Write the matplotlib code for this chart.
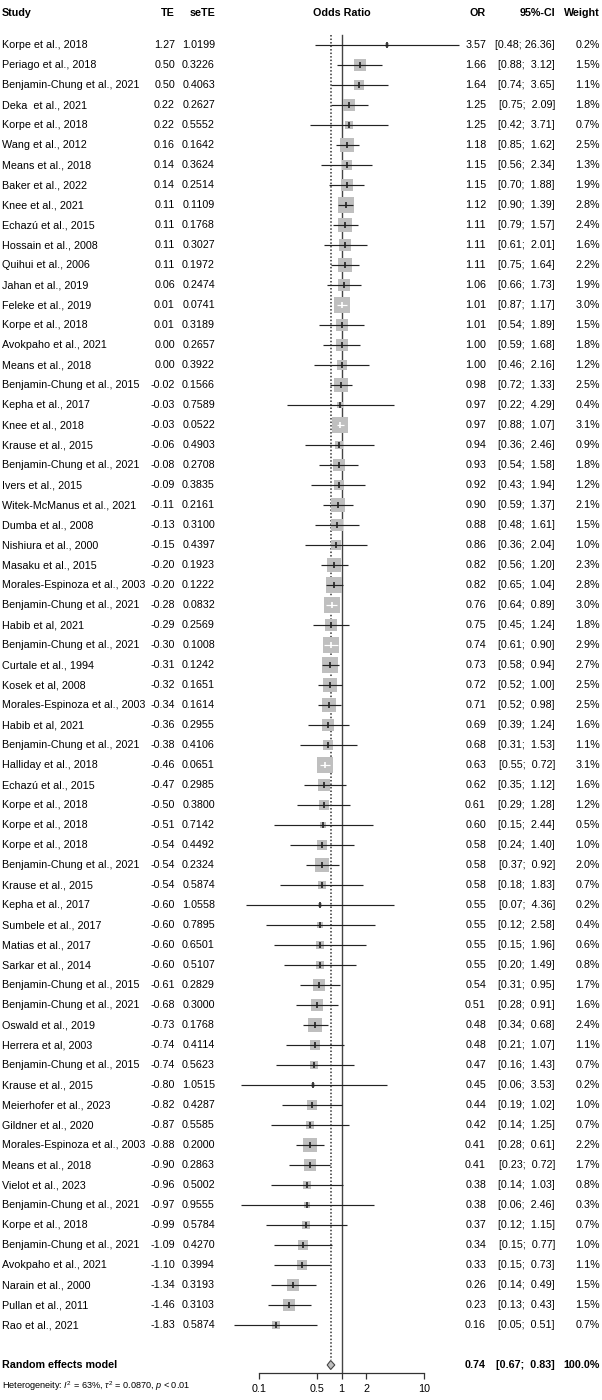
import numpy as np
import matplotlib
matplotlib.use("Agg")
import matplotlib.pyplot as plt
from matplotlib.patches import Polygon

plt.rcParams['font.family'] = ['Liberation Sans', 'DejaVu Sans']
plt.rcParams['mathtext.fontset'] = 'custom'
plt.rcParams['mathtext.rm'] = 'Liberation Sans'
plt.rcParams['mathtext.it'] = 'Liberation Sans:italic'

studies = [
    "Korpe et al., 2018", "Periago et al., 2018", "Benjamin-Chung et al., 2021", "Deka  et al., 2021",
    "Korpe et al., 2018", "Wang et al., 2012", "Means et al., 2018", "Baker et al., 2022",
    "Knee et al., 2021", "Echazú et al., 2015", "Hossain et al., 2008", "Quihui et al., 2006",
    "Jahan et al., 2019", "Feleke et al., 2019", "Korpe et al., 2018", "Avokpaho et al., 2021",
    "Means et al., 2018", "Benjamin-Chung et al., 2015", "Kepha et al., 2017", "Knee et al., 2018",
    "Krause et al., 2015", "Benjamin-Chung et al., 2021", "Ivers et al., 2015", "Witek-McManus et al., 2021",
    "Dumba et al., 2008", "Nishiura et al., 2000", "Masaku et al., 2015", "Morales-Espinoza et al., 2003",
    "Benjamin-Chung et al., 2021", "Habib et al, 2021", "Benjamin-Chung et al., 2021", "Curtale et al., 1994",
    "Kosek et al, 2008", "Morales-Espinoza et al., 2003", "Habib et al, 2021", "Benjamin-Chung et al., 2021",
    "Halliday et al., 2018", "Echazú et al., 2015", "Korpe et al., 2018", "Korpe et al., 2018",
    "Korpe et al., 2018", "Benjamin-Chung et al., 2021", "Krause et al., 2015", "Kepha et al., 2017",
    "Sumbele et al., 2017", "Matias et al., 2017", "Sarkar et al., 2014", "Benjamin-Chung et al., 2015",
    "Benjamin-Chung et al., 2021", "Oswald et al., 2019", "Herrera et al, 2003", "Benjamin-Chung et al., 2015",
    "Krause et al., 2015", "Meierhofer et al., 2023", "Gildner et al., 2020", "Morales-Espinoza et al., 2003",
    "Means et al., 2018", "Vielot et al., 2023", "Benjamin-Chung et al., 2021", "Korpe et al., 2018",
    "Benjamin-Chung et al., 2021", "Avokpaho et al., 2021", "Narain et al., 2000", "Pullan et al., 2011",
    "Rao et al., 2021",
]
te = [1.27, 0.50, 0.50, 0.22, 0.22, 0.16, 0.14, 0.14, 0.11, 0.11, 0.11, 0.11, 0.06, 0.01, 0.01, 0.00,
      0.00, -0.02, -0.03, -0.03, -0.06, -0.08, -0.09, -0.11, -0.13, -0.15, -0.20, -0.20, -0.28, -0.29,
      -0.30, -0.31, -0.32, -0.34, -0.36, -0.38, -0.46, -0.47, -0.50, -0.51, -0.54, -0.54, -0.54, -0.60,
      -0.60, -0.60, -0.60, -0.61, -0.68, -0.73, -0.74, -0.74, -0.80, -0.82, -0.87, -0.88, -0.90, -0.96,
      -0.97, -0.99, -1.09, -1.10, -1.34, -1.46, -1.83]
sete = ["1.0199", "0.3226", "0.4063", "0.2627", "0.5552", "0.1642", "0.3624", "0.2514", "0.1109", "0.1768",
        "0.3027", "0.1972", "0.2474", "0.0741", "0.3189", "0.2657", "0.3922", "0.1566", "0.7589", "0.0522",
        "0.4903", "0.2708", "0.3835", "0.2161", "0.3100", "0.4397", "0.1923", "0.1222", "0.0832", "0.2569",
        "0.1008", "0.1242", "0.1651", "0.1614", "0.2955", "0.4106", "0.0651", "0.2985", "0.3800", "0.7142",
        "0.4492", "0.2324", "0.5874", "1.0558", "0.7895", "0.6501", "0.5107", "0.2829", "0.3000", "0.1768",
        "0.4114", "0.5623", "1.0515", "0.4287", "0.5585", "0.2000", "0.2863", "0.5002", "0.9555", "0.5784",
        "0.4270", "0.3994", "0.3193", "0.3103", "0.5874"]
odds = [3.57, 1.66, 1.64, 1.25, 1.25, 1.18, 1.15, 1.15, 1.12, 1.11, 1.11, 1.11, 1.06, 1.01, 1.01, 1.00,
        1.00, 0.98, 0.97, 0.97, 0.94, 0.93, 0.92, 0.90, 0.88, 0.86, 0.82, 0.82, 0.76, 0.75, 0.74, 0.73,
        0.72, 0.71, 0.69, 0.68, 0.63, 0.62, 0.61, 0.60, 0.58, 0.58, 0.58, 0.55, 0.55, 0.55, 0.55, 0.54,
        0.51, 0.48, 0.48, 0.47, 0.45, 0.44, 0.42, 0.41, 0.41, 0.38, 0.38, 0.37, 0.34, 0.33, 0.26, 0.23, 0.16]
ci_lo = [0.48, 0.88, 0.74, 0.75, 0.42, 0.85, 0.56, 0.70, 0.90, 0.79, 0.61, 0.75, 0.66, 0.87, 0.54, 0.59,
         0.46, 0.72, 0.22, 0.88, 0.36, 0.54, 0.43, 0.59, 0.48, 0.36, 0.56, 0.65, 0.64, 0.45, 0.61, 0.58,
         0.52, 0.52, 0.39, 0.31, 0.55, 0.35, 0.29, 0.15, 0.24, 0.37, 0.18, 0.07, 0.12, 0.15, 0.20, 0.31,
         0.28, 0.34, 0.21, 0.16, 0.06, 0.19, 0.14, 0.28, 0.23, 0.14, 0.06, 0.12, 0.15, 0.15, 0.14, 0.13, 0.05]
ci_hi = [26.36, 3.12, 3.65, 2.09, 3.71, 1.62, 2.34, 1.88, 1.39, 1.57, 2.01, 1.64, 1.73, 1.17, 1.89, 1.68,
         2.16, 1.33, 4.29, 1.07, 2.46, 1.58, 1.94, 1.37, 1.61, 2.04, 1.20, 1.04, 0.89, 1.24, 0.90, 0.94,
         1.00, 0.98, 1.24, 1.53, 0.72, 1.12, 1.28, 2.44, 1.40, 0.92, 1.83, 4.36, 2.58, 1.96, 1.49, 0.95,
         0.91, 0.68, 1.07, 1.43, 3.53, 1.02, 1.25, 0.61, 0.72, 1.03, 2.46, 1.15, 0.77, 0.73, 0.49, 0.43, 0.51]
weight = [0.2, 1.5, 1.1, 1.8, 0.7, 2.5, 1.3, 1.9, 2.8, 2.4, 1.6, 2.2, 1.9, 3.0, 1.5, 1.8, 1.2, 2.5, 0.4,
          3.1, 0.9, 1.8, 1.2, 2.1, 1.5, 1.0, 2.3, 2.8, 3.0, 1.8, 2.9, 2.7, 2.5, 2.5, 1.6, 1.1, 3.1, 1.6,
          1.2, 0.5, 1.0, 2.0, 0.7, 0.2, 0.4, 0.6, 0.8, 1.7, 1.6, 2.4, 1.1, 0.7, 0.2, 1.0, 0.7, 2.2, 1.7,
          0.8, 0.3, 0.7, 1.0, 1.1, 1.5, 1.5, 0.7]
pooled_or, pooled_lo, pooled_hi = 0.74, 0.67, 0.83
axis_ticks = [0.1, 0.5, 1, 2, 10]

W, H, DPI = 602, 1400, 100
fig = plt.figure(figsize=(W / DPI, H / DPI), dpi=DPI)
fs = 7.75

# text layer in pixel coordinates
tx = fig.add_axes([0, 0, 1, 1])
tx.set_xlim(0, W)
tx.set_ylim(H, 0)
tx.axis('off')

# forest axes (log scale); y in pixels, bottom at axis line
ax_left, ax_right, ax_bottom = 220, 470, 1373
ppd = 82.5  # pixels per decade
x0 = 10 ** (-1 - (259 - ax_left) / ppd)
x1 = 10 ** (-1 + (ax_right - 259) / ppd)
fx = fig.add_axes([ax_left / W, (H - ax_bottom) / H, (ax_right - ax_left) / W, ax_bottom / H])
fx.set_xscale('log')
fx.set_xlim(x0, x1)
fx.set_ylim(ax_bottom, 0)
fx.patch.set_alpha(0)
for s in ['top', 'left', 'right']:
    fx.spines[s].set_visible(False)
fx.spines['bottom'].set_bounds(0.1, 10)
fx.spines['bottom'].set_linewidth(0.9)
fx.spines['bottom'].set_color('#333333')
fx.set_yticks([])
fx.set_xticks(axis_ticks)
fx.set_xticklabels([f"{t:g}" for t in axis_ticks], fontsize=fs)
fx.minorticks_off()
fx.tick_params(axis='x', direction='out', length=4, width=0.9, pad=4, color='#333333')

row0, dy = 45, 20
ys = [row0 + dy * i for i in range(len(studies))]
y_pool = row0 + dy * (len(studies) + 1)
y_het = y_pool + 21
y_head = 13

# reference lines
fx.plot([1, 1], [35, ax_bottom], color='#444444', lw=1.0, zorder=1)
fx.plot([pooled_or, pooled_or], [35, y_pool - 5], color='#333333', lw=1.1,
        ls=(0, (1, 1.3)), zorder=1)

sq_k = 4.6  # half side in px per sqrt(weight)
for i, y in enumerate(ys):
    half = sq_k * np.sqrt(weight[i])
    side_pt = 2 * half * 72 / DPI
    fx.scatter([odds[i]], [y], marker='s', s=side_pt ** 2, color='#BFBFBF', linewidths=0, zorder=2)
    px_est = fx.transData.transform((odds[i], y))[0]
    px_lo = fx.transData.transform((ci_lo[i], y))[0]
    px_hi = fx.transData.transform((ci_hi[i], y))[0]
    inside = (px_est - px_lo) < half and (px_hi - px_est) < half
    col = 'white' if inside else '#222222'
    fx.hlines(y, ci_lo[i], ci_hi[i], color=col, lw=0.85, zorder=3)
    fx.plot([odds[i]], [y], marker='|', ms=4.5, mew=1.2, color=col, zorder=4)

# pooled diamond
dh = 4.5
diamond = Polygon([(pooled_lo, y_pool), (pooled_or, y_pool - dh), (pooled_hi, y_pool),
                   (pooled_or, y_pool + dh)], closed=True, facecolor='#BFBFBF',
                  edgecolor='#444444', lw=0.8, zorder=3)
fx.add_patch(diamond)

# headers
x_study, x_te, x_se, x_or, x_ci, x_w = 2, 175, 215, 486, 555, 600
hd = dict(fontsize=fs, fontweight='bold', va='center')
tx.text(x_study, y_head, "Study", ha='left', **hd)
tx.text(x_te, y_head, "TE", ha='right', **hd)
tx.text(x_se, y_head, "seTE", ha='right', **hd)
tx.text(342, y_head, "Odds Ratio", ha='center', **hd)
tx.text(x_or, y_head, "OR", ha='right', **hd)
tx.text(x_ci, y_head, "95%-CI", ha='right', **hd)
tx.text(x_w, y_head, "Weight", ha='right', **hd)

for i, y in enumerate(ys):
    kw = dict(fontsize=fs, va='center')
    tx.text(x_study, y, studies[i], ha='left', **kw)
    tx.text(x_te, y, f"{te[i]:.2f}", ha='right', **kw)
    tx.text(x_se, y, sete[i], ha='right', **kw)
    tx.text(x_or, y, f"{odds[i]:.2f}", ha='right', **kw)
    tx.text(x_ci, y, f"[{ci_lo[i]:.2f}; {ci_hi[i]:5.2f}]", ha='right', **kw)
    tx.text(x_w, y, f"{weight[i]:.1f}%", ha='right', **kw)

bk = dict(fontsize=fs, va='center', fontweight='bold')
tx.text(x_study, y_pool, "Random effects model", ha='left', **bk)
tx.text(x_or, y_pool, f"{pooled_or:.2f}", ha='right', **bk)
tx.text(x_ci, y_pool, f"[{pooled_lo:.2f}; {pooled_hi:5.2f}]", ha='right', **bk)
tx.text(x_w, y_pool, "100.0%", ha='right', **bk)
tx.text(x_study, y_het, r"Heterogeneity: $I^2$ = 63%, $\tau^2$ = 0.0870, $p$ < 0.01",
        ha='left', va='center', fontsize=6.6)

fig.savefig("out.png", dpi=DPI)
